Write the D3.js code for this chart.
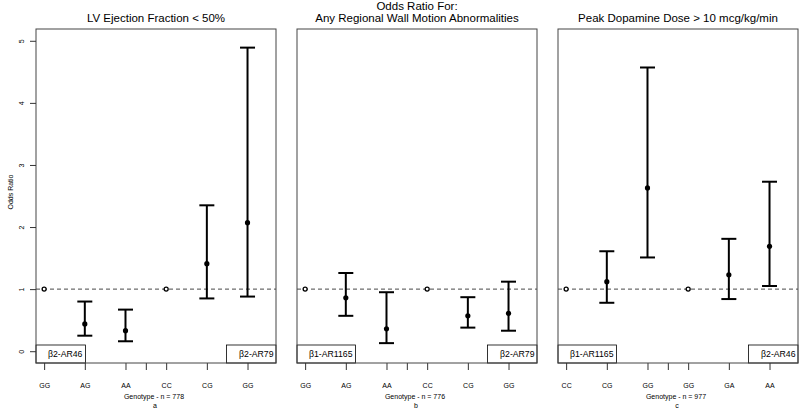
<!DOCTYPE html>
<html>
<head>
<meta charset="utf-8">
<script src="https://cdn.jsdelivr.net/npm/d3@7"></script>
<style>
  html, body { margin: 0; padding: 0; background: #fff; }
  svg text { font-family: "Liberation Sans", Arial, Helvetica, sans-serif; fill: #000; }
</style>
</head>
<body>
<svg id="chart" width="800" height="410"></svg>
<script>
// ---------------- DATA ----------------
const panelTitles = [
  ["LV Ejection Fraction < 50%"],
  ["Odds Ratio For:", "Any Regional Wall Motion Abnormalities"],
  ["Peak Dopamine Dose > 10 mcg/kg/min"]
];
const genotypes = [
  ["GG", "AG", "AA", "CC", "CG", "GG"],
  ["GG", "AG", "AA", "CC", "CG", "GG"],
  ["CC", "CG", "GG", "GG", "GA", "AA"]
];
const isReference = [
  [true, false, false, true, false, false],
  [true, false, false, true, false, false],
  [true, false, false, true, false, false]
];
const oddsRatio = [
  [1, 0.44, 0.33, 1, 1.41, 2.07],
  [1, 0.86, 0.36, 1, 0.57, 0.61],
  [1, 1.12, 2.63, 1, 1.23, 1.69]
];
const ciLower = [
  [null, 0.25, 0.16, null, 0.85, 0.88],
  [null, 0.57, 0.13, null, 0.38, 0.33],
  [null, 0.78, 1.51, null, 0.84, 1.05]
];
const ciUpper = [
  [null, 0.80, 0.67, null, 2.35, 4.89],
  [null, 1.26, 0.95, null, 0.87, 1.12],
  [null, 1.61, 4.57, null, 1.81, 2.73]
];
const xAxisLabels = ["Genotype - n = 778", "Genotype - n = 776", "Genotype - n = 977"];
const subLabels = ["a", "b", "c"];
const leftGeneLabels = ["\u03B22-AR46", "\u03B21-AR1165", "\u03B21-AR1165"];
const rightGeneLabels = ["\u03B22-AR79", "\u03B22-AR79", "\u03B22-AR46"];
const yTicks = [0, 1, 2, 3, 4, 5];
const separatorPosition = 3.5;
const referenceLine = 1;
const yAxisTitle = "Odds Ratio";

// ---------------- LAYOUT ----------------
const svg = d3.select("#chart");
const panelLefts = [36, 297, 558];
const panelWidth = 240;
const plotTop = 29, plotBottom = 363;

const y = d3.scaleLinear().domain([-0.19, 5.19]).range([plotBottom, plotTop]);

panelLefts.forEach((left, p) => {
  const right = left + panelWidth;
  const cx = (left + right) / 2;
  const x = d3.scaleLinear().domain([0.8, 6.7]).range([left, right]);
  const g = svg.append("g");

  // title
  const tl = panelTitles[p];
  tl.forEach((line, i) => {
    const base = tl.length === 1 ? 22 : 10 + i * 12;
    g.append("text").attr("x", cx).attr("y", base)
      .attr("text-anchor", "middle").style("font-size", "11.5px").text(line);
  });

  // reference dashed line
  g.append("line")
    .attr("x1", left).attr("x2", right)
    .attr("y1", y(referenceLine)).attr("y2", y(referenceLine))
    .attr("stroke", "#333").attr("stroke-width", 0.9)
    .attr("stroke-dasharray", "4,3");

  // x axis
  const tickVals = d3.range(1, genotypes[p].length + 1).concat([separatorPosition]);
  const xAxis = d3.axisBottom(x)
    .tickValues(tickVals)
    .tickSize(7)
    .tickPadding(13)
    .tickFormat(d => Number.isInteger(d) ? genotypes[p][d - 1] : "");
  const ax = g.append("g").attr("transform", `translate(0,${plotBottom})`).call(xAxis);
  ax.select(".domain").remove();
  ax.selectAll("line").attr("stroke", "#333");
  ax.selectAll("text").style("font-size", "7px").attr("dy", 0).attr("y", 24.5)
    .style("font-family", '"Liberation Sans", Arial, sans-serif');

  // x axis title + sub label
  g.append("text").attr("x", cx - 2).attr("y", 399).attr("text-anchor", "middle")
    .style("font-size", "7px").text(xAxisLabels[p]);
  g.append("text").attr("x", cx - 1).attr("y", 408).attr("text-anchor", "middle")
    .style("font-size", "7px").text(subLabels[p]);

  // error bars + points
  const rows = genotypes[p].map((gt, i) => ({
    pos: i + 1, or: oddsRatio[p][i], lo: ciLower[p][i], hi: ciUpper[p][i], ref: isReference[p][i]
  }));
  const capHalf = 7.5;
  rows.filter(d => !d.ref).forEach(d => {
    const px = x(d.pos);
    g.append("line").attr("x1", px).attr("x2", px).attr("y1", y(d.lo)).attr("y2", y(d.hi))
      .attr("stroke", "#000").attr("stroke-width", 2);
    [d.lo, d.hi].forEach(v => {
      g.append("line").attr("x1", px - capHalf).attr("x2", px + capHalf)
        .attr("y1", y(v)).attr("y2", y(v))
        .attr("stroke", "#000").attr("stroke-width", 2);
    });
    g.append("circle").attr("cx", px).attr("cy", y(d.or)).attr("r", 2.6).attr("fill", "#000");
  });
  rows.filter(d => d.ref).forEach(d => {
    g.append("circle").attr("cx", x(d.pos)).attr("cy", y(d.or)).attr("r", 2)
      .attr("fill", "#fff").attr("stroke", "#000").attr("stroke-width", 1.3);
  });

  // gene legend boxes
  const boxTop = 345;
  const lt = g.append("text").attr("y", 357).style("font-size", "8.7px").text(leftGeneLabels[p]);
  const lw = lt.node().getComputedTextLength();
  lt.attr("x", left + 12);
  g.append("rect").attr("x", left).attr("y", boxTop).attr("width", lw + 15).attr("height", plotBottom - boxTop)
    .attr("fill", "none").attr("stroke", "#000").attr("stroke-width", 0.8);
  const rt = g.append("text").attr("y", 357).style("font-size", "8.7px").text(rightGeneLabels[p]);
  const rw = rt.node().getComputedTextLength();
  rt.attr("x", right - rw - 2.5);
  g.append("rect").attr("x", right - rw - 15).attr("y", boxTop).attr("width", rw + 15).attr("height", plotBottom - boxTop)
    .attr("fill", "none").attr("stroke", "#000").attr("stroke-width", 0.8);

  // panel frame
  g.append("rect").attr("x", left).attr("y", plotTop).attr("width", panelWidth).attr("height", plotBottom - plotTop)
    .attr("fill", "none").attr("stroke", "#444").attr("stroke-width", 1);

  // y axis on first panel
  if (p === 0) {
    const yAxis = d3.axisLeft(y).tickValues(yTicks).tickSize(6).tickFormat(d3.format("d"));
    const ay = g.append("g").attr("transform", `translate(${left},0)`).call(yAxis);
    ay.select(".domain").remove();
    ay.selectAll("line").attr("stroke", "#333");
    ay.selectAll("text").remove();
    ay.selectAll(".tick").append("text")
      .attr("transform", "translate(-12.5,0) rotate(-90)")
      .attr("text-anchor", "middle")
      .style("font-size", "7px")
      .text(d => d);
    g.append("text").attr("transform", `translate(12.5,${(plotTop + plotBottom) / 2 - 4}) rotate(-90)`)
      .attr("text-anchor", "middle").style("font-size", "7px").text(yAxisTitle);
  }
});
</script>
</body>
</html>
